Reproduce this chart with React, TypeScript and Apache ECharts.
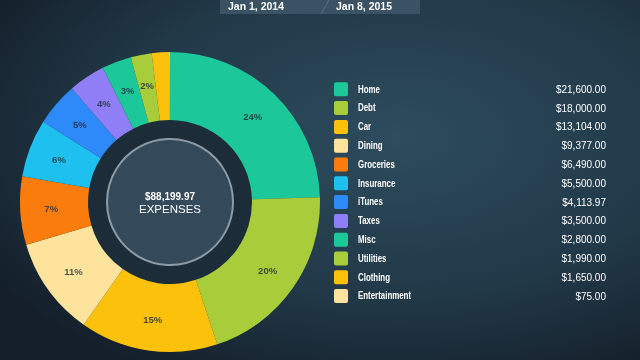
import React, { useEffect, useRef } from "react";
import * as echarts from "echarts";

const categories = ["Home", "Debt", "Car", "Dining", "Groceries", "Insurance", "iTunes", "Taxes", "Misc", "Utilities", "Clothing", "Entertainment"];
const amounts = [21600, 18000, 13104, 9377, 6490, 5500, 4113.97, 3500, 2800, 1990, 1650, 75];
const colors = ["#1cc79a", "#a8cc3a", "#fcc10a", "#fde39c", "#f97c0c", "#1ec0ef", "#2d8af8", "#8f7ef5", "#1cc79a", "#a8cc3a", "#fcc10a", "#fde39c"];
const dateRange = ["Jan 1, 2014", "Jan 8, 2015"];
const centerLabel = "EXPENSES";

const fmtMoney = (v: number) =>
  "$" + v.toLocaleString("en-US", { minimumFractionDigits: 2, maximumFractionDigits: 2 });

export default function App() {
  const ref = useRef<HTMLDivElement>(null);
  useEffect(() => {
    if (!ref.current) return;
    const chart = echarts.init(ref.current, null, { renderer: "svg" });
    const total = amounts.reduce((a, b) => a + b, 0);
    const cx = 170, cy = 202;
    const rowY0 = 89.3, rowStep = 18.8;
    const legend: any[] = [];
    categories.forEach((c, i) => {
      const y = rowY0 + i * rowStep;
      legend.push({
        type: "rect", shape: { x: 334, y: y - 7, width: 14, height: 14, r: 2 },
        style: { fill: colors[i] }, z: 10,
      });
      legend.push({
        type: "text", x: 358, y, scaleX: 0.79, style: {
          text: c, fill: "#ffffff", font: "bold 10px 'Liberation Sans', sans-serif",
          textVerticalAlign: "middle", textAlign: "left",
        }, z: 10,
      });
      legend.push({
        type: "text", x: 606, y, style: {
          text: fmtMoney(amounts[i]), fill: "#ffffff", font: "10px 'Liberation Sans', sans-serif",
          textVerticalAlign: "middle", textAlign: "right",
        }, z: 10,
      });
    });
    chart.setOption({
      animation: false,
      backgroundColor: {
        type: "radial", x: 0.62, y: 0.38, r: 0.75,
        colorStops: [
          { offset: 0, color: "#2d4c5e" },
          { offset: 0.6, color: "#213847" },
          { offset: 1, color: "#141f2a" },
        ],
      },
      graphic: [
        { type: "rect", shape: { x: 220, y: -2, width: 200, height: 16 }, style: { fill: "#3a5264" }, z: 5 },
        { type: "line", shape: { x1: 329, y1: 0, x2: 321, y2: 14 }, style: { stroke: "#56707f", lineWidth: 1 }, z: 6 },
        { type: "text", x: 228, y: 6, style: { text: dateRange[0], fill: "#ffffff", font: "bold 10.5px 'Liberation Sans', sans-serif", textVerticalAlign: "middle" }, z: 6 },
        { type: "text", x: 336, y: 6, style: { text: dateRange[1], fill: "#ffffff", font: "bold 10.5px 'Liberation Sans', sans-serif", textVerticalAlign: "middle" }, z: 6 },
        { type: "circle", shape: { cx, cy, r: 82 }, style: { fill: "#1d2c39" }, z: 1 },
        { type: "circle", shape: { cx, cy, r: 63 }, style: { fill: "#34495a", stroke: "#8c9ba6", lineWidth: 2 }, z: 2 },
        { type: "text", x: cx, y: cy - 6, style: { text: fmtMoney(total), fill: "#ffffff", font: "bold 10px 'Liberation Sans', sans-serif", textAlign: "center", textVerticalAlign: "middle" }, z: 3 },
        { type: "text", x: cx, y: cy + 7, style: { text: centerLabel, fill: "#ffffff", font: "11.5px 'Liberation Sans', sans-serif", textAlign: "center", textVerticalAlign: "middle" }, z: 3 },
        ...legend,
      ],
      series: [
        {
          type: "pie",
          center: [cx, cy],
          radius: [82, 150],
          startAngle: 90,
          clockwise: true,
          avoidLabelOverlap: false,
          silent: true,
          itemStyle: { borderWidth: 0 },
          label: {
            show: true,
            position: "inside",
            color: "rgba(30,40,50,0.8)",
            fontSize: 9.5,
            fontWeight: "bold",
            fontFamily: "'Liberation Sans', sans-serif",
            formatter: (p: any) => (p.value / total * 100 < 2 ? "" : Math.round(p.value / total * 100) + "%"),
          },
          labelLine: { show: false },
          data: categories.map((c, i) => ({ name: c, value: amounts[i], itemStyle: { color: colors[i] } })),
        },
      ],
    });
    return () => chart.dispose();
  }, []);
  return <div ref={ref} style={{ position: "fixed", left: 0, top: 0, width: 640, height: 360 }} />;
}
